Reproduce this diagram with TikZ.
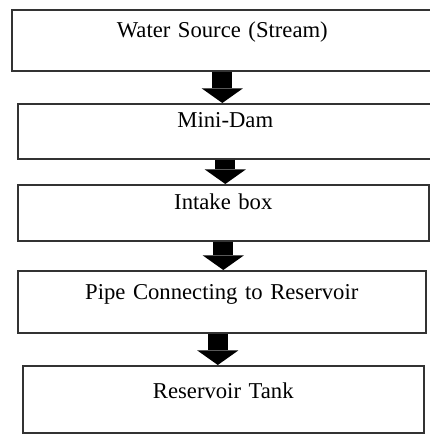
\documentclass[tikz,border=0pt]{standalone}
\usepackage{fontspec}
\setmainfont{Liberation Serif}
\usetikzlibrary{arrows.meta}

\begin{document}
\begin{tikzpicture}[x=0.75pt,y=-0.75pt,
        stage/.style={draw=black!80, line width=1.2pt, anchor=north west, inner sep=0pt,
            align=center, font=\fontsize{17}{20}\selectfont},
        flow/.style={draw=black, line width=15pt, -{Triangle[width=31pt,length=11pt,line width=0pt]}}]
        \useasboundingbox (0,0) rectangle (429,434);
        \node[stage, text width=315.75pt, text height=21pt, text depth=24.75pt] (src) at (11,9) {Water Source (Stream)};
        \node[stage, text width=311.25pt, text height=18pt, text depth=23.25pt] (dam) at (17,103) {Mini-Dam};
        \node[stage, text width=308.25pt, text height=18.75pt, text depth=23.25pt] (intake) at (17,184) {Intake box};
        \node[stage, text width=306pt, text height=21.75pt, text depth=24.75pt] (pipe) at (17,270) {Pipe Connecting to Reservoir};
        \node[stage, text width=300.75pt, text height=24.75pt, text depth=25.5pt] (tank) at (22,365) {Reservoir Tank};

        \draw[flow] (src.south) -- (src.south |- dam.north);
        \draw[flow] (dam.south) -- (dam.south |- intake.north);
        \draw[flow] (intake.south) -- (intake.south |- pipe.north);
        \draw[flow] ([xshift=-3pt]pipe.south) -- ([xshift=-3pt]pipe.south |- tank.north);
\end{tikzpicture}
\end{document}
